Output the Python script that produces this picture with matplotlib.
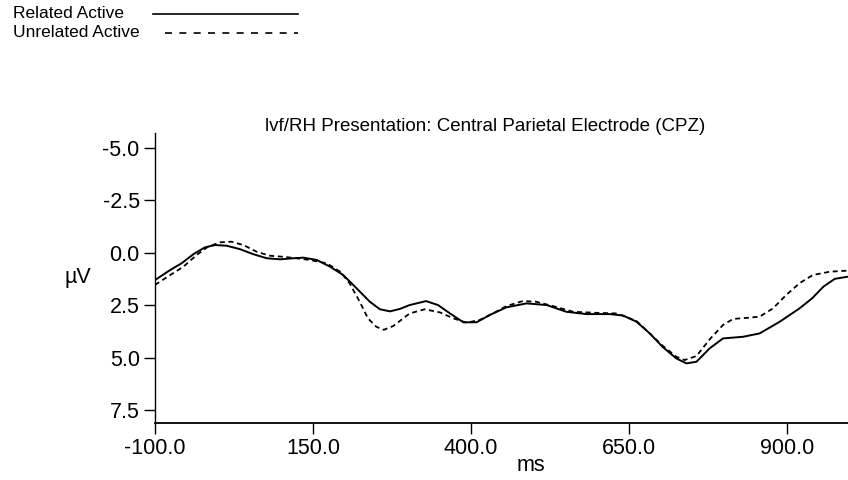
import matplotlib
matplotlib.use("Agg")
from matplotlib import pyplot as plt
from matplotlib.lines import Line2D
from matplotlib.ticker import FormatStrFormatter

# ERP waveforms: time (ms) and amplitude (µV, negative is up)
related_ms = [-100, -76, -58, -39, -21, -5, 13, 34, 55, 77, 98, 119, 135, 156, 177,
              198, 219, 240, 256, 272, 288, 303, 329, 348, 367, 388, 409, 430, 456,
              488, 520, 551, 583, 620, 641, 662, 683, 704, 725, 741, 757, 778, 799,
              831, 857, 889, 920, 940, 958, 976, 996]
related_uv = [1.31, 0.83, 0.51, 0.07, -0.25, -0.36, -0.33, -0.17, 0.07, 0.27, 0.32,
              0.27, 0.24, 0.35, 0.67, 1.07, 1.70, 2.34, 2.70, 2.80, 2.68, 2.50, 2.31,
              2.50, 2.90, 3.32, 3.32, 2.97, 2.61, 2.42, 2.50, 2.82, 2.93, 2.93, 3.00,
              3.29, 3.85, 4.51, 5.04, 5.28, 5.20, 4.56, 4.09, 4.01, 3.85, 3.29, 2.66,
              2.18, 1.62, 1.25, 1.15]

unrelated_ms = [-100, -76, -55, -34, -16, 3, 21, 40, 61, 82, 103, 124, 145, 172, 193,
                208, 224, 237, 250, 262, 277, 303, 327, 351, 372, 393, 414, 435, 456,
                482, 503, 530, 562, 599, 631, 662, 683, 704, 725, 738, 757, 778, 799,
                815, 841, 857, 878, 899, 920, 941, 968, 996]
unrelated_uv = [1.54, 1.07, 0.67, 0.11, -0.28, -0.49, -0.52, -0.36, -0.04, 0.15, 0.20,
                0.27, 0.35, 0.51, 0.91, 1.46, 2.34, 3.13, 3.53, 3.68, 3.50, 2.90, 2.70,
                2.85, 3.13, 3.34, 3.21, 2.90, 2.55, 2.31, 2.34, 2.55, 2.82, 2.87, 2.90,
                3.26, 3.85, 4.45, 4.96, 5.12, 4.93, 4.13, 3.45, 3.16, 3.10, 3.05, 2.66,
                2.02, 1.46, 1.07, 0.91, 0.86]

x_ticks = [-100, 150, 400, 650, 900]
y_ticks = [-5.0, -2.5, 0.0, 2.5, 5.0, 7.5]
series_labels = ["Related Active", "Unrelated Active"]
title = "lvf/RH Presentation: Central Parietal Electrode (CPZ)"

plt.rcParams["font.family"] = ["Liberation Sans", "DejaVu Sans"]

W, H = 848, 480
fig = plt.figure(figsize=(W / 100, H / 100), dpi=100)
ax = fig.add_axes([155 / W, 57 / H, 695 / W, 290 / H])

ax.plot(related_ms, related_uv, color="black", lw=1.4, linestyle="-")
ax.plot(unrelated_ms, unrelated_uv, color="black", lw=1.3, linestyle=(0, (2.8, 2.0)))

ax.set_xlim(-100, 1000)
ax.set_ylim(8.12, -5.7)
ax.set_xticks(x_ticks)
ax.set_yticks(y_ticks)
ax.xaxis.set_major_formatter(FormatStrFormatter("%.1f"))
ax.yaxis.set_major_formatter(FormatStrFormatter("%.1f"))
ax.tick_params(axis="both", direction="out", length=8, width=1, labelsize=15.5, pad=3)

ax.spines["top"].set_visible(False)
ax.spines["right"].set_visible(False)
ax.spines["left"].set_linewidth(1)
ax.spines["bottom"].set_linewidth(1.3)

fig.text(531 / W, 1 - 471 / H, "ms", fontsize=15.5, ha="center", va="baseline")
fig.text(65 / W, 1 - 283 / H, "µV", fontsize=15.5, ha="left", va="baseline")
fig.text(485 / W, 1 - 131 / H, title, fontsize=13.5, ha="center", va="baseline")

# legend drawn by hand in the top-left corner
legend_styles = ["-", (0, (4.2, 4.4))]
legend_start = [153, 165]
for i, (label, ls) in enumerate(zip(series_labels, legend_styles)):
    base = 1 - (18.5 + 18.5 * i) / H
    line_y = 1 - (13.5 + 19 * i) / H
    fig.text(13 / W, base, label, fontsize=12.5, ha="left", va="baseline")
    fig.add_artist(Line2D([legend_start[i] / W, 298 / W], [line_y, line_y],
                          transform=fig.transFigure, color="black", lw=1.2, linestyle=ls))

fig.savefig("out.png", dpi=100)
